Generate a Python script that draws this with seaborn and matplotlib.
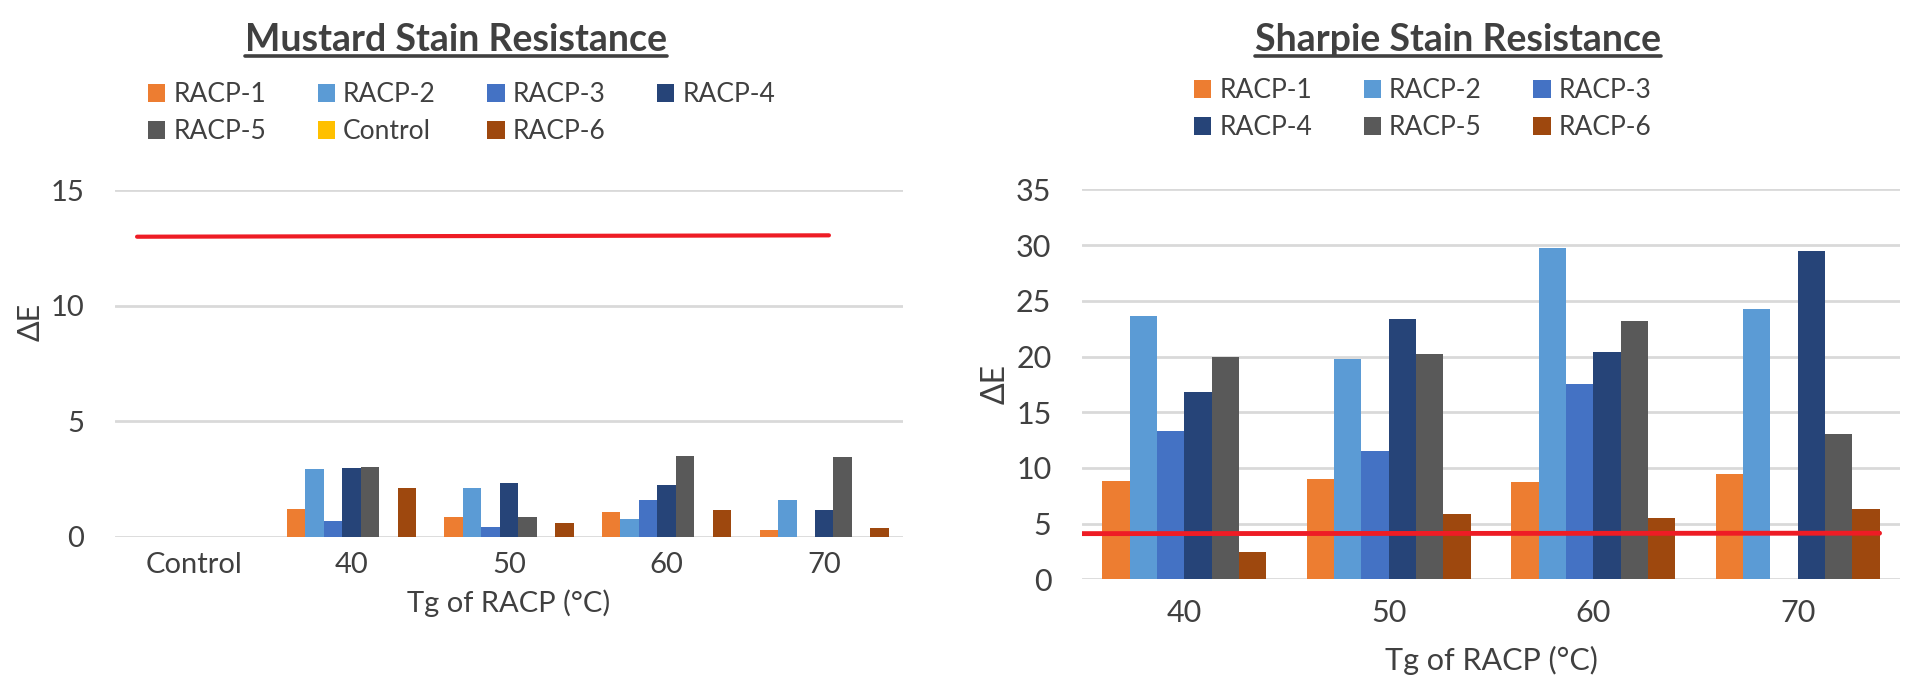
import numpy as np
import pandas as pd
import matplotlib
matplotlib.use('Agg')
import matplotlib.pyplot as plt
from matplotlib.patches import Patch
from matplotlib.lines import Line2D
import seaborn as sns

sns.set_style('white')
plt.rcParams['font.family'] = ['Lato', 'DejaVu Sans']

# mustard data
mustard_cats = ['Control', '40', '50', '60', '70']
mustard_series = ['RACP-1', 'RACP-2', 'RACP-3', 'RACP-4', 'RACP-5', 'Control', 'RACP-6']
m_racp1 = [0, 1.18, 0.85, 1.07, 0.30]
m_racp2 = [0, 2.93, 2.12, 0.75, 1.58]
m_racp3 = [0, 0.70, 0.43, 1.58, 0.0]
m_racp4 = [0, 2.99, 2.32, 2.22, 1.17]
m_racp5 = [0, 3.03, 0.85, 3.48, 3.44]
m_control = [0, 0, 0, 0, 0]
m_racp6 = [0, 2.09, 0.60, 1.17, 0.38]
mustard_ref = [12.99, 13.05]

# sharpie data
sharpie_cats = ['40', '50', '60', '70']
sharpie_series = ['RACP-1', 'RACP-2', 'RACP-3', 'RACP-4', 'RACP-5', 'RACP-6']
s_racp1 = [8.86, 9.0, 8.74, 9.45]
s_racp2 = [23.6, 19.74, 29.7, 24.3]
s_racp3 = [13.27, 11.5, 17.5, 0]
s_racp4 = [16.78, 23.4, 20.4, 29.5]
s_racp5 = [19.92, 20.25, 23.2, 13.0]
s_racp6 = [2.46, 5.9, 5.5, 6.28]
sharpie_ref = [4.1, 4.14]

colors = {'RACP-1': '#ED7D31', 'RACP-2': '#5B9BD5', 'RACP-3': '#4472C4',
          'RACP-4': '#264478', 'RACP-5': '#595959', 'Control': '#FFC000',
          'RACP-6': '#9E480E'}
TXT = '#404040'
GRID = '#D9D9D9'

def long_df(cats, series, cols):
    rows = []
    for s, vals in zip(series, cols):
        for c, v in zip(cats, vals):
            rows.append({'Tg': c, 'sample': s, 'dE': v})
    return pd.DataFrame(rows)

df_m = long_df(mustard_cats, mustard_series,
               [m_racp1, m_racp2, m_racp3, m_racp4, m_racp5, m_control, m_racp6])
df_s = long_df(sharpie_cats, sharpie_series,
               [s_racp1, s_racp2, s_racp3, s_racp4, s_racp5, s_racp6])

fig = plt.figure(figsize=(19.2, 6.87), dpi=100)
ax1 = fig.add_axes([115/1920, 1-536.7/687, (903-115)/1920, (536.7-190.3)/687])
ax2 = fig.add_axes([1082/1920, 1-579.3/687, (1900-1082)/1920, (579.3-189.4)/687])

sns.barplot(data=df_m, x='Tg', y='dE', hue='sample', order=mustard_cats,
            hue_order=mustard_series, palette=colors, width=0.82, saturation=1,
            linewidth=0, legend=False, ax=ax1, errorbar=None)
sns.barplot(data=df_s, x='Tg', y='dE', hue='sample', order=sharpie_cats,
            hue_order=sharpie_series, palette=colors, width=0.8, saturation=1,
            linewidth=0, legend=False, ax=ax2, errorbar=None)

# reference lines
ax1.plot([-0.36, 4.03], mustard_ref, color='#EE1C25', lw=3, zorder=5)
ax2.plot([-0.5, 3.4], sharpie_ref, color='#EE1C25', lw=3.5, zorder=5)

for ax, top, fs, xpad, xlp, yly in ((ax1, 15, 21, 11, 8, 0.62),
                                    (ax2, 35, 22, 14, 14, 0.5)):
    ax.set_ylim(0, top)
    ax.set_yticks(np.arange(0, top + 1, 5))
    ax.set_xlim(-0.5, len(ax.get_xticks()) - 0.5)
    ax.grid(axis='y', color=GRID, lw=2)
    ax.set_axisbelow(True)
    sns.despine(ax=ax, left=True, bottom=True)
    ax.tick_params(axis='y', length=0, labelsize=fs, labelcolor=TXT, pad=22)
    ax.tick_params(axis='x', length=0, labelsize=fs, labelcolor=TXT, pad=xpad)
    ax.set_xlabel('Tg of RACP (°C)', fontsize=fs, color=TXT, labelpad=xlp)
    ax.set_ylabel('ΔE', fontsize=fs + 1, color=TXT, labelpad=4)
    ax.yaxis.label.set_y(yly)

# legends
def ordered(series, ncol):
    nrow = int(np.ceil(len(series) / ncol))
    out = []
    for c in range(ncol):
        for r in range(nrow):
            i = r * ncol + c
            if i < len(series):
                out.append(series[i])
    return out

for series, ncol, anchor in ((mustard_series, 4, (148/1920, 1-82/687)),
                             (sharpie_series, 3, (1194/1920, 1-78/687))):
    labs = ordered(series, ncol)
    handles = [Patch(facecolor=colors[s], edgecolor='none') for s in labs]
    fig.legend(handles, labs, loc='upper left', bbox_to_anchor=anchor, ncol=ncol,
               frameon=False, fontsize=19, handlelength=0.66, handleheight=0.66,
               handletextpad=0.3, columnspacing=1.95, labelspacing=0.45,
               borderpad=0, borderaxespad=0, labelcolor=TXT)

# titles, underlined
titles = [fig.text(456/1920, 1-40/687, 'Mustard Stain Resistance', ha='center',
                   va='center', fontsize=27, fontweight='bold', color=TXT),
          fig.text(1458/1920, 1-40/687, 'Sharpie Stain Resistance', ha='center',
                   va='center', fontsize=27, fontweight='bold', color=TXT)]
fig.canvas.draw()
r = fig.canvas.get_renderer()
for t in titles:
    bb = t.get_window_extent(renderer=r)
    y = bb.y0 + 1
    fig.add_artist(Line2D([bb.x0 / 1920, bb.x1 / 1920], [y / 687, y / 687],
                          color=TXT, lw=2.6, transform=fig.transFigure))

fig.savefig('out.png', dpi=100, facecolor='white')
